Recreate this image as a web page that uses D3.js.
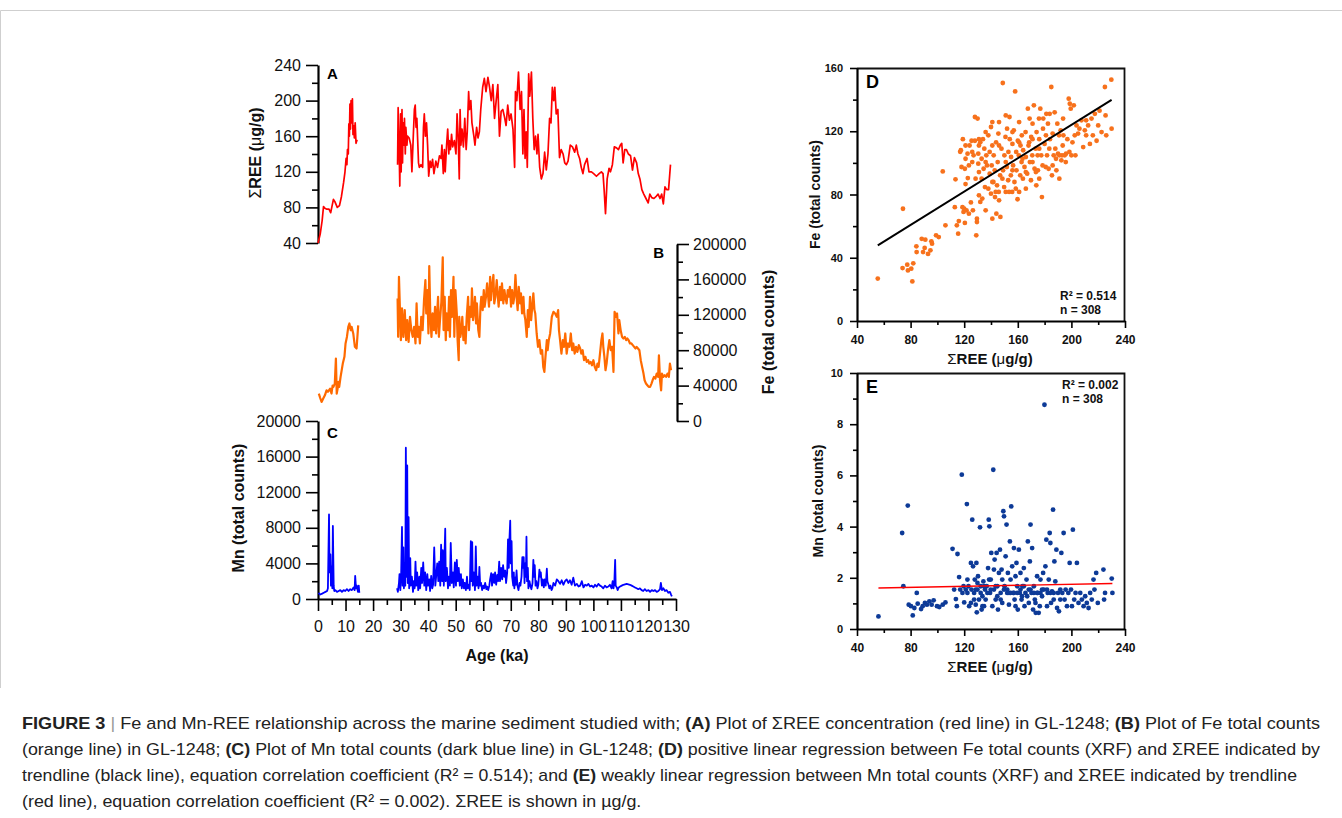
<!DOCTYPE html>
<html>
<head>
<meta charset="utf-8">
<script src="https://cdn.jsdelivr.net/npm/d3@7"></script>
<style>
  body { margin: 0; background: #fff; }
  svg text { font-family: "Liberation Sans", Arial, Helvetica, sans-serif; }
</style>
</head>
<body>
<svg id="fig" width="1342" height="818"></svg>
<script>
// ---- data ----
// age axis (ka) shared by A, B, C
var ageTicks = [0,10,20,30,40,50,60,70,80,90,100,110,120,130];
var reeTicks = [40,80,120,160,200,240];
var feTicks = [0,40000,80000,120000,160000,200000];
var mnTicks = [0,4000,8000,12000,16000,20000];

// A: sum REE (ug/g) vs age; null = core gap
var reeSeries = [
[0,40],[0.8,50],[1.5,65],[2.0,81],[2.5,79],[3.2,78],[4.0,78],[4.6,74],[5.0,80],[5.6,89],[6.2,86],[7.0,80],[7.8,82],[8.5,92],[9.3,108],[9.8,120],[10.2,135],[10.5,128],[10.7,145],[11.0,140],[11.2,174],[11.4,160],[11.6,196],[11.8,168],[12.0,200],[12.3,175],[12.5,202],[12.7,162],[12.9,172],[13.2,158],[13.5,175],[13.8,152],[14.2,156],
[21,null],
[28.9,128],[29.1,192],[29.5,140],[29.7,104],[30.0,185],[30.2,120],[30.5,190],[30.7,130],[30.9,175],[31.2,150],[31.4,180],[31.7,140],[31.9,170],[32.3,150],[32.5,160],[33.1,158],[33.7,150],[34.1,120],[34.6,160],[35.0,190],[35.3,195],[35.6,170],[35.9,180],[36.2,155],[36.5,130],[36.8,125],[37.4,128],[38.0,125],[38.3,170],[38.6,185],[39.0,160],[39.4,175],[39.8,150],[40.2,115],[40.7,132],[41.1,125],[41.6,134],[42.1,118],[42.8,132],[43.4,125],[44.1,138],[44.7,135],[45.0,150],[45.5,118],[45.9,145],[46.2,120],[46.7,150],[47.1,168],[47.5,140],[47.7,155],[48.1,145],[48.5,162],[48.9,148],[49.5,155],[50.1,140],[50.5,185],[50.9,160],[51.3,112],[51.6,190],[51.9,150],[52.3,168],[52.8,148],[53.3,180],[53.8,145],[54.2,165],[54.7,210],[55.0,190],[55.5,200],[55.9,175],[56.6,160],[57.0,150],[57.6,170],[58.1,158],[58.6,165],[59.1,190],[59.8,215],[60.4,225],[61.0,210],[61.7,226],[62.3,215],[62.9,200],[63.5,218],[64.1,180],[64.7,200],[65.3,218],[65.9,160],[66.5,188],[67.1,190],[67.7,182],[68.3,172],[68.9,195],[69.5,178],[70.1,185],[70.8,168],[71.4,125],[71.7,210],[72.2,200],[72.8,232],[73.4,190],[73.9,210],[74.4,140],[74.8,190],[75.2,135],[75.6,165],[76.0,125],[76.5,230],[76.9,205],[77.5,232],[78.0,180],[78.5,145],[79.0,160],[79.5,140],[79.9,162],[80.5,125],[81.1,112],[81.7,118],[82.3,142],[82.9,122],[83.5,140],[84.1,180],[84.6,175],[85.1,215],[85.6,200],[86.0,215],[86.5,185],[87.1,190],[87.7,136],[88.3,145],[89.0,140],[89.6,130],[90.2,128],[90.8,132],[91.6,150],[92.4,148],[93.2,142],[93.8,150],[94.4,140],[95.0,135],[95.6,125],[96.2,118],[96.8,128],[97.7,135],[98.4,120],[99.3,120],[100.1,118],[101.1,115],[102.1,118],[102.9,120],[103.5,118],[103.9,100],[104.4,73],[105.0,112],[105.7,124],[106.2,120],[106.9,128],[107.6,148],[108.4,147],[109.1,145],[109.8,150],[110.3,152],[110.8,130],[111.4,145],[112.0,145],[112.7,140],[113.5,138],[114.2,122],[114.9,136],[115.7,130],[116.3,118],[116.9,112],[117.6,100],[118.3,95],[119.1,90],[119.9,85],[120.5,95],[121.2,91],[122.0,90],[122.7,92],[123.5,95],[124.2,90],[124.8,95],[125.4,84],[126.0,103],[126.6,100],[127.3,100],[128.0,128]
];

// B: Fe total counts vs age
var feSeries = [
[0.3,31000],[0.8,26000],[1.3,21500],[1.9,25300],[2.5,29000],[3.1,34700],[3.6,33000],[4.4,36600],[4.9,31000],[5.3,40000],[5.6,38500],[6.1,42300],[6.5,70600],[6.8,30900],[7.1,36000],[7.4,44200],[7.7,38500],[8.2,49800],[9.0,64900],[9.6,72500],[10.0,87600],[10.5,95000],[11.0,106400],[11.4,110200],[11.9,102600],[12.2,106400],[12.8,98900],[13.4,83800],[14.0,81900],[14.6,108000],
[21,null],
[28.9,138500],[29.1,95100],[29.4,163000],[29.8,121500],[30.1,91300],[30.5,127200],[31.0,95100],[31.5,125300],[32.0,91300],[32.4,114000],[32.9,89400],[33.4,117700],[33.9,102700],[34.4,95100],[34.9,106400],[35.4,87600],[35.8,132800],[36.2,95100],[36.6,106400],[37.0,87600],[37.5,117700],[38.0,102700],[38.5,136600],[39.0,159300],[39.3,121500],[39.7,147900],[40.1,98900],[40.4,175100],[40.8,117700],[41.2,95100],[41.6,121500],[42.1,102700],[42.5,129100],[42.9,98900],[43.2,117700],[43.6,140400],[43.9,95100],[44.3,114000],[44.8,134700],[45.3,184900],[45.6,102700],[46.0,140400],[46.4,91300],[46.7,121500],[47.2,102700],[47.6,140400],[47.9,95100],[48.3,147900],[48.7,117700],[49.2,163000],[49.5,95100],[49.9,147900],[50.4,121500],[50.7,91300],[51.1,68700],[51.3,117700],[51.7,95100],[52.1,102700],[52.4,117700],[52.8,91300],[53.3,106400],[53.6,87600],[54.0,117700],[54.5,140400],[54.8,102700],[55.2,129100],[55.6,117700],[55.9,149800],[56.3,114000],[56.7,125300],[57.0,140400],[57.4,110200],[57.7,132800],[58.2,102700],[58.6,95100],[59.0,129100],[59.3,140400],[59.8,125300],[60.2,147900],[60.5,129100],[61.0,140400],[61.4,155500],[61.7,144200],[62.1,129100],[62.5,163000],[62.8,136600],[63.2,151700],[63.7,165000],[64.0,132800],[64.4,140400],[64.9,159300],[65.3,140400],[65.6,129100],[66.1,151700],[66.5,136600],[66.8,155500],[67.3,132800],[67.7,147900],[68.0,140400],[68.5,132800],[68.9,147900],[69.2,140400],[69.7,151700],[70.1,129100],[70.5,147900],[70.9,132800],[71.3,140400],[71.7,165000],[72.2,136600],[72.5,125300],[72.9,151700],[73.4,132800],[73.7,144200],[74.1,121500],[74.6,140400],[74.9,121500],[75.3,114000],[75.8,95100],[76.2,125300],[76.5,106400],[77.0,140400],[77.4,114000],[77.8,129100],[78.2,144200],[78.6,125300],[78.9,121500],[79.4,98900],[79.9,83800],[80.4,91300],[80.9,76200],[81.4,80000],[81.8,61100],[82.2,55500],[82.6,72500],[83.1,91300],[83.4,80000],[83.8,91300],[84.3,98900],[84.9,117700],[85.5,123400],[86.1,121500],[86.7,117700],[87.2,125300],[87.5,102700],[87.9,91300],[88.4,76200],[88.9,91300],[89.3,83800],[89.8,98900],[90.3,76200],[90.8,87600],[91.3,83800],[91.8,98900],[92.3,80000],[92.7,87600],[93.2,76200],[93.7,83800],[94.2,78100],[94.7,85700],[95.2,81900],[95.6,76200],[96.1,80000],[96.6,68700],[97.1,72500],[97.6,66800],[98.1,68700],[98.5,64900],[99.0,66800],[99.5,63000],[100.0,68700],[100.5,61100],[101.0,57400],[101.5,64900],[101.9,61100],[102.4,76200],[102.9,91300],[103.3,98900],[103.6,83800],[104.0,72500],[104.4,57400],[104.8,64900],[105.3,80000],[105.8,91300],[106.3,80000],[106.8,83800],[107.3,55500],[107.7,123400],[108.2,117700],[108.6,121500],[109.1,98900],[109.4,114000],[109.9,102700],[110.4,95100],[110.9,93200],[111.4,95100],[111.9,91300],[112.3,93200],[112.8,91300],[113.3,87600],[113.8,87600],[114.3,85700],[114.8,83800],[115.3,81900],[115.7,83800],[116.2,81900],[116.7,80000],[117.2,68700],[117.7,61100],[118.2,53600],[118.6,46000],[119.1,42300],[119.6,40400],[120.1,38500],[120.6,38500],[121.1,42300],[121.5,46000],[122.0,49800],[122.5,47900],[123.0,53600],[123.5,49800],[123.8,74300],[124.2,46000],[124.6,34700],[124.9,53600],[125.4,49800],[125.9,51700],[126.4,49800],[126.9,53600],[127.4,49800],[127.8,64900],[128.2,57400]
];

// C: Mn total counts vs age
var mnSeries = [
[0.2,700],[0.8,500],[1.5,600],[2.1,700],[2.7,800],[3.3,900],[3.6,1200],[4.0,9500],[4.2,3000],[4.5,5000],[4.7,1500],[5.0,3700],[5.2,1200],[5.4,8200],[5.7,1500],[5.9,900],[6.3,1000],[6.9,800],[7.5,900],[8.1,1000],[8.7,800],[9.3,1000],[9.9,900],[10.5,1100],[11.1,900],[11.7,1100],[12.3,1000],[12.9,1300],[13.3,1000],[13.5,2600],[13.8,1200],[14.1,1500],[14.5,800],[14.8,1500],[15.0,700],
[21,null],
[28.7,1200],[29.0,800],[29.4,1800],[29.6,2800],[29.9,1000],[30.2,2900],[30.5,8100],[30.7,1500],[31.0,5800],[31.2,1200],[31.4,3000],[31.7,1500],[31.9,17000],[32.2,2500],[32.4,15000],[32.6,1800],[32.9,9200],[33.1,1200],[33.5,4600],[33.7,1500],[34.1,2500],[34.5,800],[34.7,2000],[35.1,1200],[35.4,4200],[35.7,1500],[36.0,3000],[36.4,1000],[36.8,2500],[37.1,1200],[37.5,3500],[37.8,1800],[38.2,4100],[38.6,1500],[38.9,3000],[39.3,1000],[39.7,2800],[40.0,1500],[40.4,2200],[40.7,900],[41.1,2600],[41.5,1200],[41.8,1600],[42.2,5800],[42.6,1500],[42.9,2500],[43.3,4000],[43.7,2000],[44.0,4200],[44.4,1500],[44.7,6100],[45.1,2000],[45.3,5500],[45.7,1500],[45.9,4500],[46.2,7900],[46.4,2000],[46.8,3500],[47.2,1200],[47.5,2500],[47.9,1500],[48.2,6300],[48.6,1800],[49.0,3000],[49.3,1300],[49.7,4100],[50.1,1500],[50.4,4400],[50.8,2000],[51.1,3500],[51.5,1500],[51.9,2800],[52.2,1200],[52.6,2200],[53.0,1200],[53.3,1800],[53.7,1000],[54.1,2500],[54.4,1200],[54.8,1600],[55.1,1000],[55.5,6500],[55.7,2000],[56.0,6400],[56.2,1500],[56.6,3000],[57.0,1000],[57.3,5900],[57.6,1500],[57.9,2500],[58.3,1200],[58.6,3600],[58.9,1500],[59.2,1800],[59.6,1000],[60.0,1500],[60.3,1200],[60.7,1800],[61.1,1100],[61.4,1400],[61.8,1000],[62.2,1500],[62.5,2200],[62.9,2900],[63.2,1500],[63.6,2800],[64.0,1800],[64.3,3000],[64.7,1600],[65.1,2700],[65.4,2000],[65.8,4200],[66.1,2000],[66.5,3500],[66.9,2200],[67.2,3800],[67.6,2500],[68.0,3200],[68.3,1800],[68.7,3000],[69.0,6700],[69.3,3500],[69.5,6600],[69.8,8800],[70.0,4000],[70.3,6500],[70.5,2500],[70.9,1500],[71.1,3000],[71.3,1200],[71.6,2400],[71.8,1600],[72.1,3200],[72.4,1500],[72.8,1000],[73.2,1800],[73.5,1500],[73.9,2500],[74.2,4700],[74.5,3500],[74.7,4700],[75.0,1800],[75.2,4000],[75.5,2500],[75.7,7000],[75.9,2000],[76.2,3500],[76.4,1200],[76.8,2000],[77.1,1500],[77.5,1100],[77.9,1800],[78.2,4400],[78.5,2500],[78.7,3800],[79.0,1500],[79.3,2000],[79.7,1200],[80.0,1600],[80.4,3300],[80.7,2500],[80.9,3000],[81.3,1500],[81.6,2200],[82.0,1300],[82.3,2200],[82.7,1500],[83.1,3400],[83.3,2000],[83.7,1600],[84.0,1200],[84.4,1500],[84.8,1000],[85.1,1200],[85.5,1800],[86.1,1500],[86.7,2200],[87.3,2000],[87.9,1700],[88.5,2100],[89.1,1600],[89.7,2000],[90.3,2200],[90.9,1800],[91.5,2100],[92.1,1600],[92.7,2400],[93.3,1500],[94.0,1700],[94.6,1400],[95.2,1500],[95.8,2000],[96.4,1300],[97.0,1600],[97.6,1500],[98.2,1700],[98.8,1400],[99.4,1500],[100.0,1300],[100.6,1600],[101.2,1400],[101.8,1700],[102.4,1500],[103.0,1400],[103.6,1200],[104.2,1500],[104.8,1300],[105.4,1400],[106.0,1600],[106.6,1200],[107.0,2000],[107.3,1200],[107.6,1800],[107.9,4400],[108.1,1500],[108.5,1300],[108.8,1000],[109.2,1300],[109.7,1400],[110.3,1500],[110.9,1600],[111.5,1650],[112.1,1700],[112.7,1650],[113.3,1600],[113.9,1500],[114.5,1400],[115.1,1300],[115.7,1200],[116.3,1100],[116.9,1200],[117.5,1000],[118.1,900],[118.7,1100],[119.3,900],[120.0,1000],[120.6,800],[121.2,1000],[121.8,900],[122.4,1000],[123.0,800],[123.6,900],[124.2,1100],[124.5,1800],[124.9,1000],[125.4,1200],[126.0,900],[126.6,1000],[127.2,700],[127.8,800],[128.2,500],[128.5,300]
];

// D: sum REE vs Fe (x1000 counts)
var feScatter = [
[55.5,26.8],[74.3,71.0],[74,33.5],[77.5,35.6],[78,32],[80.5,33.1],[81.3,25],[82,36.5],[84.3,47.2],[84.5,43.6],[88.3,52],[89.3,43.6],[90.5,46.2],[91,51.4],[93,42.4],[94.8,44.7],[95.5,50.4],[96,48.9],[99,54.2],[101,53.1],[104,94.6],[106,60.5],[113,72],[113.5,89.6],[114.5,60.5],[115.5,55.2],[116,63.2],[117,107],[117.5,108],[118,97.4],[118.7,72],[119,115],[119.5,69],[120,71],[120.5,96.3],[120.5,62],[121,102.6],[121,86.6],[121.7,70],[122.5,105.8],[122.7,90.4],[123.5,67.9],[124,111],[125,75],[125.5,114],[126,100.5],[126.5,70],[127,104.8],[128,129],[128,114],[128.5,90],[129,54.2],[129.5,62.6],[129.5,64.7],[130,128],[130.5,99.5],[130.5,105.8],[131,79.5],[131,115],[132,75.3],[132,113],[133,90],[133,102.6],[133.5,77.4],[134,115],[134.5,96.3],[135,109],[135.5,84.7],[136,70],[136.5,104.8],[137,98.4],[138,117.4],[138,83.7],[139,93.2],[139,106.9],[140,122.7],[140,80.5],[140.5,98.4],[141,111],[141,64.7],[141.8,87.9],[142,104.8],[142.8,95.3],[143,78.4],[143.8,113],[144,67.9],[144.5,85.8],[145,100.5],[145.5,118.5],[145.8,81.6],[146,125.8],[146.8,92.1],[147,65.8],[147.8,109],[148.8,150.5],[149,95.3],[149.8,84.7],[150,104.8],[150.8,116.4],[151,81.6],[151.8,97.4],[152,121.6],[152.8,89],[153,106.9],[153.8,129],[154,115],[154.8,92.1],[155,103.7],[155.8,81.6],[156,112],[156.5,98.4],[157,120.6],[157.5,87.9],[158,145.2],[158.8,106.9],[159,95.3],[159.8,77],[160,114],[160.8,104.8],[161,125.8],[161.8,92.1],[162,111],[162.8,100.5],[163,117.4],[163.8,90],[164,108],[165,97.4],[165.8,119.5],[166,103.7],[167,93.2],[167.5,134.3],[168,111],[168.8,128],[169,100.5],[169.8,89],[170,116.4],[170.8,104.8],[171,124.8],[172,136.4],[172.5,96.3],[173.3,109],[173.8,85.8],[174,119.5],[174.8,104.8],[175,95.3],[175.8,128],[176,115],[176.8,134.3],[177.5,104.8],[178,78.4],[178.8,121.6],[179,128],[180,112],[180.8,97.4],[181.3,131],[181.8,104.8],[182.5,124.8],[183,96.3],[183.8,131],[184,115],[185,148],[185.5,92.1],[186,118.5],[186.8,104.8],[187.5,132],[188,109],[188.8,95.3],[189.5,124.8],[190,105.8],[190.8,117.4],[191,90],[192,120.6],[192.5,101.6],[193,104.8],[193.8,128],[194,117.4],[195,104.8],[195.8,100.5],[196,105.8],[197,115],[198,140.6],[198.8,137.4],[199.5,134.3],[200,104.8],[200.8,113],[201.8,136.4],[202.5,117.4],[203,104.8],[203.8,123.7],[205,118.5],[206,121.6],[207.5,126.9],[208.8,110],[210,120.6],[211,117.4],[212.5,123.7],[213.8,112],[215,128],[216,117.4],[217.5,131],[218.8,114],[220,123.7],[221,133],[222.5,119.5],[225,148],[225.5,130],[226,117.4],[229.8,152.6],[230,121.6],
[126,106.9],[131,94.2],[136,119.5],[141,125.8],[146,76.3],[151,130],[156,95.3],[161,113],[166,83.7],[171,100.5],[176,109],[181,117.4],[186,98.4],[191,104.8],[131,111],[136,100.5],[141,87.9],[146,111],[151,100.5],[156,119.5],[161,81.6],[166,94.2],[171,115],[176,90],[121,111],[123.5,98.4],[143.5,81.6],[148.5,90],[153.5,81.6],[158.5,83.7],[163.5,102.6],[168.5,113],[173.5,94.2],[178.5,98.4],[183.5,109],[188.5,102.6],[193.5,111],[198.5,106.9],[211,126.9]
];

// E: sum REE vs Mn (x1000 counts)
var mnScatter = [
[56,0.49],[73.7,3.75],[74.6,1.67],[77.9,4.82],[78.6,0.95],[80.3,0.89],[81.6,0.53],[82.8,0.82],[84.6,1.41],[85.3,0.99],[87.8,0.78],[89,0.89],[90.7,1.02],[92.2,0.95],[94,1.08],[95.7,0.95],[97.2,1.12],[99.7,0.89],[101.4,0.86],[104,0.95],[106,1.04],[111.3,3.13],[112.5,1.54],[113.8,1.17],[114.5,0.89],[115,2.93],[116.2,2.03],[117,1.54],[118.2,6.03],[118.7,1.41],[119.5,1.67],[120,1.04],[121.2,1.54],[122,4.88],[122.4,1.41],[123.2,1.67],[123.7,0.89],[125,2.58],[125.4,1.54],[126,4.27],[126.6,2.45],[127.4,1.41],[127.9,1.93],[128.6,0.95],[129.1,2.58],[129.4,0.65],[129.9,1.54],[130.3,2.06],[131,1.15],[131.8,3.97],[132.3,1.67],[133,0.76],[133.6,1.28],[134.3,1.86],[134.8,0.89],[135.5,1.54],[136,1.15],[136.8,1.67],[137.8,2.38],[138.3,4.27],[138.8,4.01],[139.3,1.41],[139.8,1.93],[140.2,2.97],[141,0.89],[141.7,6.22],[142.2,2.32],[142.7,2.71],[143.5,1.15],[144.2,2.97],[144.7,1.67],[145.2,0.76],[145.9,2.19],[146.7,3.1],[147.2,1.41],[147.9,2.32],[148.4,1.02],[149.2,4.6],[149.7,4.4],[150.1,1.67],[150.9,2.84],[151.6,4.08],[152.1,1.41],[152.6,2.19],[153.4,0.95],[154.1,3.42],[154.6,1.93],[155.1,4.79],[155.8,2.45],[156.6,1.41],[157.1,3.16],[157.6,1.15],[158.3,2.06],[159,2.58],[159.6,1.67],[160,0.76],[160.8,3.1],[161.5,1.41],[162,2.19],[162.8,1.15],[163.5,1.67],[164.5,2.38],[165,0.89],[165.7,1.41],[166.5,1.93],[167.5,3.42],[168.2,1.02],[169,2.64],[169.5,4.08],[170.2,1.41],[170.7,3.16],[171.4,0.76],[172,1.67],[172.7,1.15],[173.4,0.63],[174.4,2.06],[174.9,1.41],[175.6,0.63],[176.4,0.89],[176.9,1.93],[178.1,1.28],[178.9,2.19],[179.9,8.76],[180.6,2.45],[181.3,3.49],[181.8,0.89],[182.3,1.41],[183.1,1.93],[183.8,3.75],[184.3,3.36],[184.8,1.02],[185.5,1.47],[186.3,4.66],[186.8,1.15],[187.3,2.64],[188,1.86],[188.8,3.1],[189.3,0.82],[190,1.41],[190.7,0.69],[191.7,1.15],[192.5,2.97],[193.2,1.41],[194.2,3.75],[194.9,1.15],[195.7,1.54],[196.7,0.89],[197.7,1.41],[198.7,2.58],[199.7,1.54],[200.4,0.89],[201.1,3.88],[202.1,1.15],[203.1,1.41],[204.1,2.58],[205.3,1.02],[206.6,1.41],[207.8,1.15],[209.1,0.89],[210.3,1.28],[211.5,1.02],[212.8,0.82],[214,1.41],[215.2,1.15],[216.5,1.93],[217.2,1.54],[218.5,2.19],[219.7,1.02],[223.9,2.32],[224.4,1.15],[225.1,1.41],[230.1,1.97],[230.6,1.41],
[127.4,1.15],[132.3,1.41],[137.3,1.41],[142.2,1.54],[147.2,1.15],[152.1,1.54],[157.1,1.41],[162,1.54],[167,1.28],[172,1.41],[176.9,1.41],[181.8,1.54],[186.8,1.41],[191.7,1.54],[129.9,1.8],[134.8,1.67],[139.8,1.54],[144.7,1.28],[149.7,1.54],[154.6,1.41],[159.6,1.41],[164.5,1.67],[169.5,1.54],[174.4,1.41],[179.4,1.54],[184.3,1.41],[122.4,1.93],[125,1.02],[128.6,1.54],[133.6,0.89],[138.6,1.93],[143.5,1.67],[148.4,1.93],[153.4,1.41],[158.3,0.89],[163.2,1.28],[168.2,1.54],[173.2,1.02],[178.1,1.54]
];

var scatterXTicks = [40,80,120,160,200,240];
var feScatterTicks = [0,40,80,120,160];
var mnScatterTicks = [0,2,4,6,8,10];

// trendlines as printed in D and E
var feFit = {slope: 0.527, intercept: 18.6, r2: "0.514", n: 308};
var mnFit = {slope: 0.00103, intercept: 1.542, r2: "0.002", n: 308};

var captionLines = [
  [["FIGURE 3", "b"], [" | ", "sep"], ["Fe and Mn-REE relationship across the marine sediment studied with; "], ["(A)", "b"], [" Plot of \u03A3REE concentration (red line) in GL-1248; "], ["(B)", "b"], [" Plot of Fe total counts"]],
  [["(orange line) in GL-1248; "], ["(C)", "b"], [" Plot of Mn total counts (dark blue line) in GL-1248; "], ["(D)", "b"], [" positive linear regression between Fe total counts (XRF) and \u03A3REE indicated by"]],
  [["trendline (black line), equation correlation coefficient (R\u00B2 = 0.514); and "], ["(E)", "b"], [" weakly linear regression between Mn total counts (XRF) and \u03A3REE indicated by trendline"]],
  [["(red line), equation correlation coefficient (R\u00B2 = 0.002). \u03A3REE is shown in \u00B5g/g."]]
];

// ---- drawing ----
var svg = d3.select("#fig");

// figure frame
svg.append("path")
  .attr("d", "M0.5,688V10.5H1342")
  .attr("fill", "none")
  .attr("stroke", "#cfcfcf")
  .attr("stroke-width", 1);

var x = d3.scaleLinear().domain([0, 130]).range([318, 676]);
var yA = d3.scaleLinear().domain([40, 240]).range([243, 65]);
var yB = d3.scaleLinear().domain([0, 200000]).range([421, 244]);
var yC = d3.scaleLinear().domain([0, 20000]).range([599, 421]);

function midpoints(ticks) {
  var out = [];
  for (var i = 0; i < ticks.length - 1; i++) out.push((ticks[i] + ticks[i + 1]) / 2);
  return out;
}

// axis with long major ticks and half length minor ticks
function drawAxis(g, gen, scale, ticks, o) {
  g.call(gen(scale).tickValues(ticks).tickSize(o.len).tickSizeOuter(0)
    .tickPadding(o.pad).tickFormat(o.fmt || d3.format("d")));
  g.append("g")
    .call(gen(scale).tickValues(midpoints(ticks)).tickSize(o.minor || o.len / 2).tickSizeOuter(0).tickFormat(""))
    .select(".domain").remove();
  g.attr("font-family", null)
    .attr("font-size", o.font)
    .attr("font-weight", o.weight || "normal");
  g.selectAll(".domain").attr("stroke", "#000").attr("stroke-width", o.lw || 2.2);
  g.selectAll(".tick line").attr("stroke", "#000").attr("stroke-width", o.tw || 1.6);
  g.selectAll(".tick text").attr("fill", "#111");
  return g;
}

function rotLabel(cx, cy, parts, size) {
  var t = svg.append("text")
    .attr("transform", "translate(" + cx + "," + cy + ") rotate(-90)")
    .attr("text-anchor", "middle")
    .attr("dy", "0.35em")
    .attr("font-size", size)
    .attr("fill", "#111");
  parts.forEach(function(p) {
    t.append("tspan").attr("font-weight", p[1] ? "normal" : "bold").text(p[0]);
  });
  return t;
}

function flatLabel(cx, cy, parts, size) {
  var t = svg.append("text")
    .attr("x", cx).attr("y", cy)
    .attr("text-anchor", "middle")
    .attr("dy", "0.35em")
    .attr("font-size", size)
    .attr("fill", "#111");
  parts.forEach(function(p) {
    t.append("tspan").attr("font-weight", p[1] ? "normal" : "bold").text(p[0]);
  });
  return t;
}

var reeLabel = [["\u03A3", 1], ["REE ("], ["\u03BC", 1], ["g/g)"]];

// panel A
drawAxis(svg.append("g").attr("transform", "translate(318,0)"), d3.axisLeft, yA, reeTicks,
  {len: 12, minor: 6, pad: 5, font: 16});
var lineA = d3.line().defined(function(d) { return d[1] != null; })
  .x(function(d) { return x(d[0]); }).y(function(d) { return yA(d[1]); });
svg.append("path").datum(reeSeries).attr("d", lineA)
  .attr("fill", "none").attr("stroke", "#ff0000").attr("stroke-width", 1.7).attr("stroke-linejoin", "round");
rotLabel(255, 153, reeLabel, 16);
svg.append("text").attr("x", 327).attr("y", 79).attr("font-size", 15).attr("font-weight", "bold").text("A");

// panel B
drawAxis(svg.append("g").attr("transform", "translate(677,0)"), d3.axisRight, yB, feTicks,
  {len: 12, minor: 6, pad: 4, font: 16});
var lineB = d3.line().defined(function(d) { return d[1] != null; })
  .x(function(d) { return x(d[0]); }).y(function(d) { return yB(d[1]); });
svg.append("path").datum(feSeries).attr("d", lineB)
  .attr("fill", "none").attr("stroke", "#ff6a00").attr("stroke-width", 2.2).attr("stroke-linejoin", "round");
rotLabel(768, 332, [["Fe (total counts)"]], 16);
svg.append("text").attr("x", 664).attr("y", 258).attr("text-anchor", "end").attr("font-size", 15).attr("font-weight", "bold").text("B");

// panel C
drawAxis(svg.append("g").attr("transform", "translate(318,0)"), d3.axisLeft, yC, mnTicks,
  {len: 12, minor: 6, pad: 5, font: 16});
drawAxis(svg.append("g").attr("transform", "translate(0,599)"), d3.axisBottom, x, ageTicks,
  {len: 12, minor: 6, pad: 10, font: 16});
var lineC = d3.line().defined(function(d) { return d[1] != null; })
  .x(function(d) { return x(d[0]); }).y(function(d) { return yC(d[1]); });
svg.append("path").datum(mnSeries).attr("d", lineC)
  .attr("fill", "none").attr("stroke", "#0000ff").attr("stroke-width", 1.8).attr("stroke-linejoin", "round");
rotLabel(238, 508, [["Mn (total counts)"]], 16);
flatLabel(497, 655, [["Age (ka)"]], 16);
svg.append("text").attr("x", 327).attr("y", 438).attr("font-size", 15).attr("font-weight", "bold").text("C");

// scatter panels
function scatterPanel(o) {
  var sx = d3.scaleLinear().domain([40, 240]).range([857, 1125]);
  var sy = d3.scaleLinear().domain(o.ydomain).range([o.bottom, o.top]);
  svg.append("path")
    .attr("d", "M857," + (o.top + 0.5) + "H1124.5V" + o.bottom)
    .attr("fill", "none").attr("stroke", "#111").attr("stroke-width", 1.8);
  drawAxis(svg.append("g").attr("transform", "translate(857,0)"), d3.axisLeft, sy, o.yticks,
    {len: 7, minor: 4, pad: 7, font: 11, weight: "bold", fmt: d3.format("d")});
  drawAxis(svg.append("g").attr("transform", "translate(0," + o.bottom + ")"), d3.axisBottom, sx, scatterXTicks,
    {len: 7, minor: 4, pad: 7, font: 12, weight: "bold"});
  svg.append("g").selectAll("circle").data(o.data).enter().append("circle")
    .attr("cx", function(d) { return sx(d[0]); })
    .attr("cy", function(d) { return sy(d[1]); })
    .attr("r", 2.4)
    .attr("fill", o.color);
  var xs = d3.extent(o.data, function(d) { return d[0]; });
  svg.append("line")
    .attr("x1", sx(xs[0])).attr("y1", sy(o.fit.intercept + o.fit.slope * xs[0]))
    .attr("x2", sx(xs[1])).attr("y2", sy(o.fit.intercept + o.fit.slope * xs[1]))
    .attr("stroke", o.fitColor).attr("stroke-width", o.fitWidth);
  svg.append("text").attr("x", 866).attr("y", o.top + 20).attr("font-size", 18).attr("font-weight", "bold").text(o.letter);
  var st = svg.append("text").attr("font-size", 12).attr("font-weight", "bold").attr("fill", "#111");
  st.append("tspan").attr("x", o.statX).attr("y", o.statY).text("R\u00B2 = " + o.fit.r2);
  st.append("tspan").attr("x", o.statX).attr("y", o.statY + 14).text("n = " + o.fit.n);
  rotLabel(o.ylabX, (o.top + o.bottom) / 2, [[o.ylabel]], 14);
  flatLabel(990, o.bottom + 38, reeLabel, 15);
}

scatterPanel({letter: "D", data: feScatter, ydomain: [0, 160], yticks: feScatterTicks,
  top: 68, bottom: 321, color: "#f7711c", fit: feFit, fitColor: "#000", fitWidth: 2,
  statX: 1060, statY: 300, ylabel: "Fe (total counts)", ylabX: 815});
scatterPanel({letter: "E", data: mnScatter, ydomain: [0, 10], yticks: mnScatterTicks,
  top: 373, bottom: 629, color: "#0d3a97", fit: mnFit, fitColor: "#ff0000", fitWidth: 1.4,
  statX: 1062, statY: 389, ylabel: "Mn (total counts)", ylabX: 818});

// caption: justified lines, last line condensed by the same ratio
var capWidths = [1298, 1298, 1275];
var capBase = [729, 755, 781, 807];
var capTexts = captionLines.map(function(parts, i) {
  var t = svg.append("text")
    .attr("x", 22).attr("y", capBase[i])
    .attr("font-size", 17)
    .attr("fill", "#222");
  parts.forEach(function(p) {
    var s = t.append("tspan").text(p[0]);
    if (p[1] === "b") s.attr("font-weight", "bold");
    if (p[1] === "sep") s.attr("fill", "#999");
  });
  return t;
});
var ratios = [];
capTexts.forEach(function(t, i) {
  var w = t.node().getComputedTextLength();
  if (i < capWidths.length) { ratios.push(capWidths[i] / w); t.attr("textLength", capWidths[i]); }
  else t.attr("textLength", w * d3.mean(ratios));
  t.attr("lengthAdjust", "spacingAndGlyphs");
});
</script>
</body>
</html>
